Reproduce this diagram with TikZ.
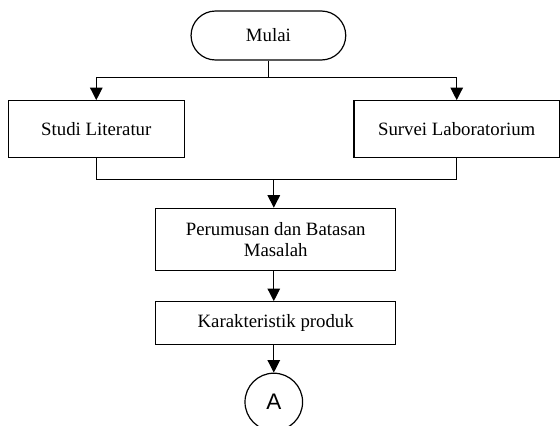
\documentclass[tikz,border=0pt]{standalone}
\usepackage{fontspec}
\setmainfont{Liberation Serif}
\newfontfamily\connfont{Liberation Sans}
\usetikzlibrary{arrows.meta}

\begin{document}
\begin{tikzpicture}[x=1pt, y=-1pt, line width=1.2pt,
        font=\fontsize{18.8}{21.5}\selectfont,
        proses/.style={draw, rectangle, inner sep=0pt, align=center},
        arr/.style={-{Triangle[width=12.5pt,length=12.5pt]}}]
        \useasboundingbox (0,0) rectangle (560,426);

        % Terminal mulai
        \node[draw, rounded corners=24.5pt, minimum width=154.7pt, minimum height=49pt] (mulai) at (268.4,35.5) {Mulai};

        % Dua kegiatan awal
        \node[proses, minimum width=176pt, minimum height=57pt] (studi) at (96.3,129.2) {Studi Literatur};
        \node[proses, minimum width=205.3pt, minimum height=57pt] (survei) at (456.7,129.2) {Survei Laboratorium};

        \node[proses, minimum width=240pt, minimum height=62.4pt] (rumusan) at (275.7,239.5) {Perumusan dan Batasan\\Masalah};
        \node[proses, minimum width=240pt, minimum height=42.6pt] (karakter) at (275.7,323) {Karakteristik produk};

        % Penghubung halaman
        \node[draw, circle, minimum size=57.6pt, inner sep=0pt, font=\connfont\fontsize{22.5}{24}\selectfont] (A) at (273.8,402) {A};

        \coordinate (cabang) at (mulai.south |- 0,77.3);
        \coordinate (gabung) at (273.8,179.3);

        \draw (mulai) -- (cabang);
        \draw[arr] (cabang) -| (studi);
        \draw[arr] (cabang) -| (survei);
        \draw (studi) |- (gabung);
        \draw (survei) |- (gabung);
        \draw[arr] (gabung) -- (gabung |- rumusan.north);
        \draw[arr] (rumusan.south -| A) -- (karakter.north -| A);
        \draw[arr] (karakter.south -| A) -- (A);
    \end{tikzpicture}
\end{document}
